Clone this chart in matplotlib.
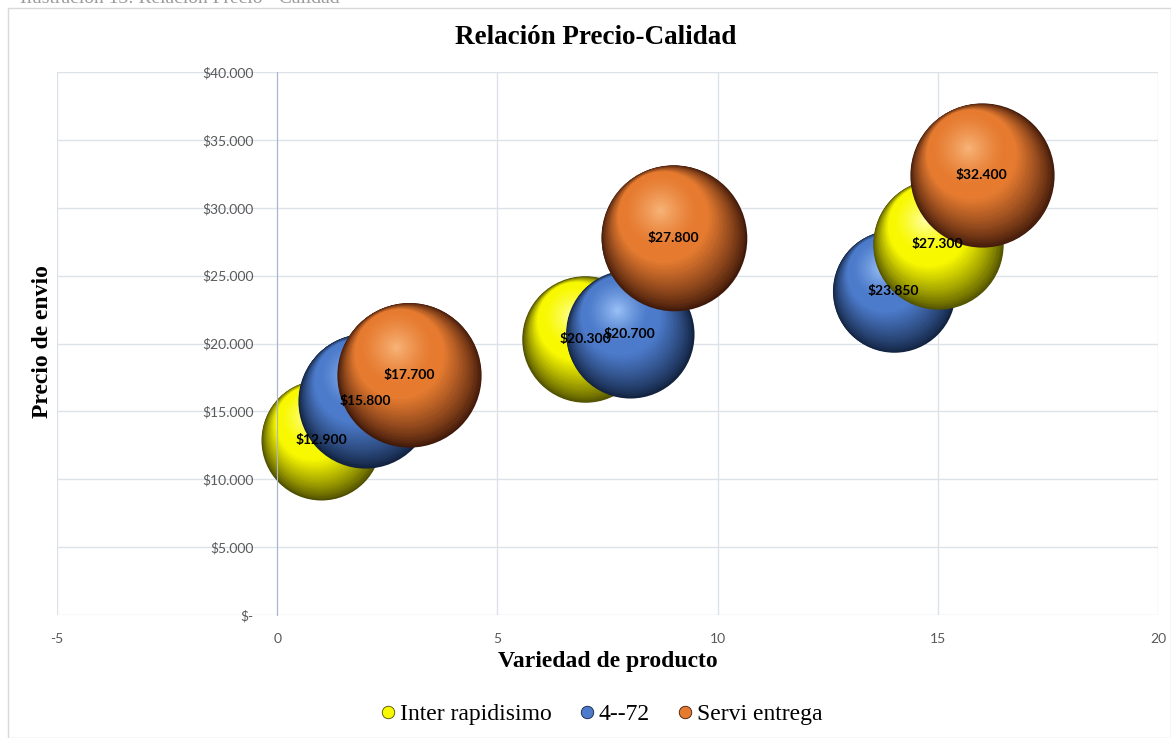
import numpy as np
import matplotlib
matplotlib.use("Agg")
import matplotlib.pyplot as plt
import matplotlib.transforms as mtransforms
from matplotlib.colors import to_rgb
from matplotlib.lines import Line2D

plt.rcParams["axes.unicode_minus"] = False

# datos del grafico
series = ["Inter rapidisimo", "4--72", "Servi entrega"]
variedad = [[1, 7, 15], [2, 8, 14], [3, 9, 16]]
precio = [[12900, 20300, 27300], [15800, 20700, 23850], [17700, 27800, 32400]]
tamano = [[36, 40, 42.5], [45, 41, 37.5], [52, 53, 52]]

# colores: borde oscuro, base, brillo
colores = [
    ("#4e4e00", "#f8f800", "#ffffa8"),
    ("#12223f", "#4c7bcb", "#9cc2f7"),
    ("#40190a", "#e67b30", "#f8b57a"),
]

fig = plt.figure(figsize=(11.71, 7.38), dpi=100)
ax = fig.add_axes([57 / 1171, 1 - 615 / 738, (1158 - 57) / 1171, (615 - 72) / 738])

# marco exterior
fig.patches.append(plt.Rectangle((8 / 1171, 0), 1 - 8 / 1171, 1 - 8 / 738,
                                 transform=fig.transFigure, fill=False,
                                 edgecolor="#d9d9d9", linewidth=1))

ax.set_xlim(-5, 20)
ax.set_ylim(0, 40000)
ax.set_xticks(np.arange(-5, 21, 5))
ax.set_yticks(np.arange(0, 40001, 5000))
ax.grid(True, color="#dde1e8", linewidth=1)
ax.set_axisbelow(True)
for s in ["top", "right", "bottom"]:
    ax.spines[s].set_visible(False)
ax.spines["left"].set_position(("data", 0))
ax.spines["left"].set_color("#a9b6cc")
ax.tick_params(length=0, labelsize=10, labelcolor="#595959")
ax.tick_params(axis="x", pad=13)
ax.tick_params(axis="y", pad=17)


def fmt_pesos(v, pos=None):
    if v == 0:
        return "$-"
    return "$" + f"{v:,.0f}".replace(",", ".")


ax.yaxis.set_major_formatter(plt.FuncFormatter(fmt_pesos))
for lab in ax.get_xticklabels() + ax.get_yticklabels():
    lab.set_fontfamily("Lato")


def mezcla(c1, c2, t):
    a, b = np.array(to_rgb(c1)), np.array(to_rgb(c2))
    return np.clip(a + (b - a) * t, 0, 1)


def color_capa(t, rim, base, hi):
    if t < 0.38:
        return mezcla(rim, base, (t / 0.38) ** 0.8)
    if t < 0.5:
        return np.array(to_rgb(base))
    return mezcla(base, hi, ((t - 0.5) / 0.5) ** 1.3)


N = 90
for k, nombre in enumerate(series):
    rim, base, hi = colores[k]
    for x, y, sz in zip(variedad[k], precio[k], tamano[k]):
        s = sz * 207.36
        R = np.sqrt(s) / 2
        for i in range(N):
            t = i / N
            d = min(0.85 * t, 0.42)
            tr = mtransforms.offset_copy(ax.transData, fig=fig,
                                         x=-0.45 * R * d, y=0.9 * R * d, units="points")
            ax.scatter([x], [y], s=s * (1 - t) ** 2, color=[color_capa(t, rim, base, hi)],
                       transform=tr, linewidths=0, zorder=2 + sz / 100)
        ax.text(x, y, fmt_pesos(y), ha="center", va="center", fontsize=10,
                fontweight="bold", fontfamily="Lato", color="black", zorder=10)

fig.text(596 / 1171, 1 - 37 / 738, "Relación Precio-Calidad", fontsize=19.5,
         fontweight="bold", fontfamily="Liberation Serif", ha="center", va="center")
ax.set_xlabel("Variedad de producto", fontsize=17, fontweight="bold",
              fontfamily="Liberation Serif", va="center")
ax.xaxis.set_label_coords((608 - 57) / (1158 - 57), -(662 - 615) / (615 - 72))
ax.set_ylabel("Precio de envio", fontsize=17, fontweight="bold",
              fontfamily="Liberation Serif", va="center")
ax.yaxis.set_label_coords((42 - 57) / (1158 - 57), (615 - 342) / (615 - 72))

handles = [Line2D([], [], marker="o", linestyle="none", markersize=9,
                  markerfacecolor=colores[k][1], markeredgecolor=colores[k][0],
                  markeredgewidth=0.6) for k in range(3)]
fig.legend(handles, series, loc="center", bbox_to_anchor=(598 / 1171, 1 - 714 / 738),
           ncol=3, frameon=False, handletextpad=-0.1, columnspacing=0.9,
           handlelength=1.2, prop={"family": "Liberation Serif", "size": 17})

fig.text(20 / 1171, 1 + 2 / 738, "Ilustración 13: Relación Precio - Calidad", fontsize=14,
         fontfamily="Liberation Serif", color="#9a9a9a", va="center")

fig.savefig("out.png", dpi=100)
